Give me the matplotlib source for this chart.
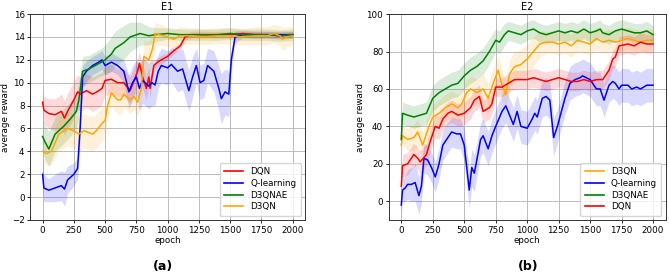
import matplotlib
matplotlib.use("Agg")
import matplotlib.pyplot as plt
import numpy as np

# ---- E1 (smoothed curves, plus half-width of the raw noise band) ----
e1_dqn_x = [0, 10, 50, 100, 150, 175, 200, 250, 280, 300, 350, 400, 450, 475, 500, 550, 600, 650, 700, 725,
            760, 775, 800, 830, 850, 860, 890, 920, 950, 1000, 1050, 1100, 1140, 1200, 1300, 1400, 1500, 1600,
            1700, 1800, 1900, 2000]
e1_dqn_y = [8.3, 7.6, 7.3, 7.2, 7.5, 6.9, 7.5, 8.5, 9.2, 9.0, 9.3, 9.0, 9.3, 9.5, 10.2, 10.3, 10.0, 10.0, 9.3, 10.0,
            11.0, 11.7, 10.5, 9.5, 10.5, 9.5, 11.5, 11.8, 12.0, 12.3, 12.8, 13.2, 14.0, 14.2, 14.2, 14.2, 14.2, 14.3,
            14.2, 14.2, 14.1, 14.2]
e1_dqn_s = [1.0, 1.2, 1.3, 1.4, 1.5, 1.5, 1.6, 1.6, 1.5, 1.5, 1.5, 1.5, 1.5, 1.4, 1.3, 1.3, 1.2, 1.2, 1.2, 1.2,
            1.2, 1.0, 1.0, 1.0, 0.8, 0.8, 0.5, 0.4, 0.4, 0.3, 0.3, 0.3, 0.3, 0.3, 0.3, 0.3, 0.3, 0.3,
            0.3, 0.3, 0.3, 0.3]

e1_ql_x = [0, 10, 50, 100, 150, 175, 200, 250, 280, 300, 320, 350, 400, 450, 475, 500, 550, 600, 650, 690,
           720, 750, 775, 800, 850, 875, 900, 925, 950, 1000, 1030, 1080, 1120, 1170, 1200, 1230, 1260, 1290,
           1320, 1370, 1410, 1430, 1460, 1490, 1510, 1540, 1600, 1700, 1800, 1900, 2000]
e1_ql_y = [2.0, 0.8, 0.6, 0.8, 1.0, 0.7, 1.5, 2.0, 2.5, 6.0, 10.5, 11.0, 11.5, 11.8, 12.0, 11.5, 11.8, 11.5, 11.0, 9.2,
           10.0, 10.5, 9.5, 10.2, 9.7, 10.0, 9.8, 11.0, 11.5, 11.3, 11.6, 11.0, 11.2, 9.3, 10.5, 11.5, 10.0, 10.2,
           11.5, 11.0, 9.5, 8.6, 9.2, 9.0, 12.0, 14.0, 14.2, 14.2, 14.2, 14.2, 14.2]
e1_ql_s = [1.5, 1.2, 1.0, 1.2, 1.3, 1.5, 1.2, 1.0, 1.0, 1.2, 1.0, 0.9, 0.8, 0.8, 0.8, 0.8, 0.8, 0.8, 1.0, 1.5,
           1.5, 1.5, 2.0, 2.0, 2.0, 2.0, 1.8, 1.5, 1.5, 1.5, 1.5, 1.8, 1.8, 1.8, 1.8, 1.5, 1.5, 1.5,
           1.5, 1.8, 2.0, 2.2, 2.0, 2.0, 1.0, 0.5, 0.3, 0.3, 0.3, 0.3, 0.3]

e1_ae_x = [0, 20, 50, 100, 130, 170, 220, 270, 290, 320, 370, 420, 470, 500, 550, 580, 650, 700, 780, 850,
           900, 1000, 1100, 1200, 1300, 1400, 1500, 1600, 1700, 1800, 1900, 2000]
e1_ae_y = [5.3, 4.8, 4.2, 5.5, 5.8, 6.2, 6.8, 7.5, 8.5, 11.0, 11.2, 11.5, 11.8, 12.0, 12.5, 13.0, 13.5, 14.0, 14.3, 14.1,
           14.2, 14.3, 14.2, 14.2, 14.2, 14.2, 14.3, 14.2, 14.2, 14.2, 14.1, 14.2]
e1_ae_s = [1.5, 1.5, 1.5, 1.5, 1.5, 1.5, 1.5, 1.5, 1.5, 1.3, 1.2, 1.2, 1.2, 1.3, 1.5, 1.5, 1.5, 1.3, 1.0, 0.8,
           0.6, 0.5, 0.5, 0.5, 0.5, 0.5, 0.5, 0.5, 0.5, 0.5, 0.5, 0.5]

e1_d3_x = [0, 30, 70, 130, 200, 250, 290, 330, 400, 430, 480, 500, 520, 550, 600, 625, 650, 700, 730, 760,
           790, 810, 850, 880, 900, 1000, 1050, 1100, 1200, 1300, 1400, 1500, 1600, 1700, 1800, 1850, 1900, 1920,
           1950, 2000]
e1_d3_y = [4.0, 3.8, 4.0, 5.5, 6.0, 5.8, 5.5, 5.8, 5.5, 5.8, 6.5, 6.7, 8.0, 9.1, 8.5, 8.5, 9.0, 8.5, 8.8, 8.3,
           9.5, 12.3, 12.0, 13.0, 14.3, 14.0, 13.8, 14.1, 14.1, 14.0, 14.1, 14.1, 14.0, 14.1, 14.1, 14.3, 14.1, 13.8,
           14.0, 14.1]
e1_d3_s = [1.0, 1.0, 1.2, 1.5, 1.5, 1.5, 1.5, 1.5, 1.5, 1.5, 1.5, 1.3, 1.3, 1.2, 1.2, 1.2, 1.2, 1.2, 1.2, 1.2,
           1.3, 1.5, 1.5, 1.3, 1.0, 0.8, 0.8, 0.8, 0.7, 0.7, 0.7, 0.7, 0.7, 0.8, 0.8, 0.8, 0.9, 1.0,
           0.9, 0.8]

# ---- E2 ----
e2_d3_x = [0, 10, 50, 100, 130, 170, 220, 250, 300, 350, 400, 450, 480, 520, 550, 600, 650, 690, 730, 770,
           800, 830, 860, 900, 950, 1000, 1050, 1100, 1150, 1200, 1250, 1300, 1350, 1400, 1450, 1500, 1550, 1600,
           1650, 1700, 1750, 1800, 1850, 1900, 1950, 2000]
e2_d3_y = [30, 35, 33, 34, 37, 30, 40, 45, 47, 50, 52, 50, 52, 58, 60, 58, 60, 55, 63, 70,
           62, 57, 68, 72, 73, 76, 80, 84, 85, 85, 84, 85, 83, 86, 85, 84, 87, 85,
           86, 85, 86, 87, 86, 85, 86, 86]
e2_d3_s = [5, 5, 6, 7, 7, 7, 7, 7, 7, 7, 7, 7, 7, 7, 7, 7, 8, 8, 8, 8,
           8, 8, 8, 8, 8, 8, 8, 7, 6, 6, 6, 6, 6, 6, 6, 6, 6, 6,
           6, 6, 6, 6, 6, 6, 6, 6]

e2_ql_x = [0, 10, 30, 50, 80, 110, 140, 160, 180, 210, 240, 270, 300, 330, 360, 400, 440, 470, 500, 540,
           560, 580, 600, 630, 650, 690, 720, 750, 800, 830, 860, 890, 920, 950, 1000, 1040, 1060, 1080, 1120,
           1150, 1180, 1210, 1240, 1260, 1300, 1340, 1380, 1420, 1440, 1500, 1550, 1580, 1610, 1630, 1650, 1680,
           1700, 1730, 1750, 1800, 1830, 1870, 1900, 1950, 2000]
e2_ql_y = [-2, 6, 7, 9, 9, 10, 3, 8, 23, 22, 18, 13, 20, 30, 33, 37, 36, 36, 30, 6,
           18, 15, 22, 33, 35, 28, 35, 40, 48, 51, 46, 41, 48, 40, 39, 44, 47, 45, 55,
           56, 54, 34, 40, 45, 55, 63, 65, 66, 67, 65, 60, 60, 54, 58, 62, 64,
           63, 60, 62, 62, 60, 61, 60, 62, 62]
e2_ql_s = [6, 6, 7, 8, 9, 10, 10, 9, 8, 8, 8, 8, 8, 8, 8, 8, 8, 8, 9, 10,
           10, 10, 9, 9, 9, 9, 9, 9, 9, 9, 9, 9, 9, 9, 9, 9, 9, 9, 10,
           10, 10, 10, 9, 9, 9, 9, 9, 9, 9, 9, 9, 9, 9, 9, 9, 9,
           9, 9, 9, 9, 9, 9, 9, 9, 9]

e2_ae_x = [0, 10, 50, 100, 150, 200, 250, 300, 350, 400, 450, 500, 550, 600, 650, 700, 750, 780, 820, 850,
           900, 950, 1000, 1050, 1100, 1150, 1200, 1250, 1300, 1350, 1400, 1450, 1500, 1550, 1580, 1600, 1650,
           1700, 1750, 1800, 1850, 1900, 1950, 2000]
e2_ae_y = [33, 47, 46, 45, 46, 47, 55, 58, 60, 62, 63, 67, 70, 72, 75, 80, 86, 85, 89, 91,
           90, 89, 91, 92, 90, 89, 90, 91, 90, 91, 90, 92, 90, 91, 92, 90, 89,
           91, 92, 91, 90, 90, 91, 89]
e2_ae_s = [5, 6, 6, 6, 6, 6, 7, 7, 7, 7, 7, 7, 7, 7, 7, 7, 6, 6, 6, 5,
           5, 5, 5, 5, 5, 5, 5, 5, 5, 5, 5, 5, 5, 5, 5, 5, 5,
           5, 5, 5, 5, 5, 5, 5]

e2_dqn_x = [0, 10, 50, 80, 100, 130, 150, 200, 230, 270, 300, 330, 370, 400, 450, 500, 550, 580, 620, 650,
            700, 720, 750, 800, 850, 900, 950, 1000, 1050, 1100, 1150, 1200, 1250, 1300, 1350, 1400, 1450, 1500,
            1550, 1600, 1650, 1680, 1700, 1730, 1800, 1850, 1900, 1950, 2000]
e2_dqn_y = [8, 19, 20, 23, 25, 23, 21, 25, 32, 40, 39, 44, 47, 48, 46, 47, 50, 54, 56, 48,
            50, 52, 61, 61, 63, 65, 65, 65, 66, 65, 64, 65, 66, 65, 64, 64, 65, 64,
            65, 65, 70, 76, 77, 83, 84, 83, 85, 84, 84]
e2_dqn_s = [5, 6, 6, 6, 6, 6, 6, 6, 6, 6, 6, 6, 6, 6, 6, 6, 6, 6, 6, 6,
            6, 6, 5, 5, 5, 5, 5, 5, 5, 5, 5, 5, 5, 5, 5, 5, 5, 5,
            5, 5, 5, 5, 5, 5, 5, 5, 5, 5, 5]

e1_series = [
    ("DQN", "red", e1_dqn_x, e1_dqn_y, e1_dqn_s),
    ("Q-learning", "blue", e1_ql_x, e1_ql_y, e1_ql_s),
    ("D3QNAE", "green", e1_ae_x, e1_ae_y, e1_ae_s),
    ("D3QN", "orange", e1_d3_x, e1_d3_y, e1_d3_s),
]
e2_series = [
    ("D3QN", "orange", e2_d3_x, e2_d3_y, e2_d3_s),
    ("Q-learning", "blue", e2_ql_x, e2_ql_y, e2_ql_s),
    ("D3QNAE", "green", e2_ae_x, e2_ae_y, e2_ae_s),
    ("DQN", "red", e2_dqn_x, e2_dqn_y, e2_dqn_s),
]

plt.rcParams['font.family'] = 'DejaVu Sans'
fig = plt.figure(figsize=(6.69, 2.76), dpi=100)
ax1 = fig.add_axes([0.045, 0.203, 0.411, 0.746])
ax2 = fig.add_axes([0.581, 0.203, 0.414, 0.746])


def draw_panel(ax, series, title, ylim, yticks):
    for name, color, x, y, s in series:
        x = np.array(x)
        y = np.array(y, dtype=float)
        s = np.array(s, dtype=float)
        ax.fill_between(x, y - s, y + s, color=color, alpha=0.15, linewidth=0)
    for name, color, x, y, s in series:
        ax.plot(x, y, color=color, linewidth=1.1, label=name)
    ax.set_title(title, fontsize=7, pad=3)
    ax.set_xlim(-100, 2100)
    ax.set_ylim(*ylim)
    ax.set_xticks(range(0, 2001, 250))
    ax.set_yticks(yticks)
    ax.tick_params(labelsize=6.3, length=2.5, pad=1.5, width=0.6)
    ax.set_xlabel('epoch', fontsize=6.3, labelpad=1)
    ax.set_ylabel('average reward', fontsize=6.3, labelpad=1)
    ax.grid(True, color='#bbbbbb', linewidth=0.7)
    ax.set_axisbelow(True)
    for sp in ax.spines.values():
        sp.set_linewidth(0.7)
        sp.set_color('#333333')
    leg = ax.legend(loc='lower right', fontsize=6.3, handlelength=2.2, borderpad=0.5,
                    labelspacing=0.3, framealpha=0.8)
    for line in leg.get_lines():
        line.set_linewidth(1.2)


draw_panel(ax1, e1_series, 'E1', (-2, 16), range(-2, 17, 2))
draw_panel(ax2, e2_series, 'E2', (-10, 100), range(0, 101, 20))

fig.text(0.244, 0.035, '(a)', ha='center', va='center', fontsize=9, fontweight='bold')
fig.text(0.79, 0.035, '(b)', ha='center', va='center', fontsize=9, fontweight='bold')

fig.savefig('out.png', dpi=100, facecolor='white')
